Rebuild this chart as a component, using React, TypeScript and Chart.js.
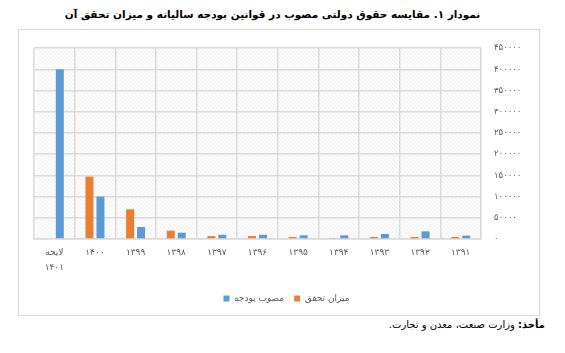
import React, { useEffect, useRef } from "react";
import { Chart, registerables } from "chart.js";

Chart.register(...registerables);

// Categories in displayed order (left to right)
const categories = ["لایحه ۱۴۰۱", "۱۴۰۰", "۱۳۹۹", "۱۳۹۸", "۱۳۹۷", "۱۳۹۶", "۱۳۹۵", "۱۳۹۴", "۱۳۹۳", "۱۳۹۲", "۱۳۹۱"];
// میزان تحقق (orange)
const realized = [null, 147000, 70000, 19600, 7000, 7000, 4700, 2500, 4700, 4700, 4700];
// مصوب بودجه (blue)
const approved = [400000, 100000, 28300, 14800, 10000, 10000, 8700, 8700, 11800, 18000, 8000];

const seriesNames = ["میزان تحقق", "مصوب بودجه"];
const yMin = 0;
const yMax = 450000;
const yStep = 50000;

const titleText = "نمودار ۱. مقایسه حقوق دولتی مصوب در قوانین بودجه سالیانه و میزان تحقق آن";
const sourceLabel = "مأخذ:";
const sourceText = " وزارت صنعت، معدن و تجارت.";

const FA_DIGITS = "۰۱۲۳۴۵۶۷۸۹";
const toFa = (v: number | string) => String(v).replace(/\d/g, (d) => FA_DIGITS[Number(d)]);

const FONT = "'DejaVu Sans', sans-serif";

const hatchPlugin = {
  id: "hatchBg",
  beforeDraw(chart: any) {
    const { ctx, chartArea: a } = chart;
    const pc = document.createElement("canvas");
    pc.width = 4;
    pc.height = 4;
    const p = pc.getContext("2d")!;
    p.fillStyle = "#ffffff";
    p.fillRect(0, 0, 4, 4);
    p.strokeStyle = "#ececec";
    p.lineWidth = 1;
    p.beginPath();
    p.moveTo(-1, -1);
    p.lineTo(5, 5);
    p.moveTo(3, -1);
    p.lineTo(5, 1);
    p.moveTo(-1, 3);
    p.lineTo(1, 5);
    p.stroke();
    const pattern = ctx.createPattern(pc, "repeat");
    ctx.save();
    ctx.fillStyle = pattern;
    ctx.fillRect(a.left, a.top, a.right - a.left, a.bottom - a.top);
    ctx.restore();
  },
};

export default function App() {
  const ref = useRef<HTMLCanvasElement>(null);

  useEffect(() => {
    if (!ref.current) return;
    const chart = new Chart(ref.current, {
      type: "bar",
      data: {
        labels: categories,
        datasets: [
          {
            label: seriesNames[0],
            data: realized,
            backgroundColor: "#ED7D31",
            categoryPercentage: 0.54,
            barPercentage: 0.73,
          },
          {
            label: seriesNames[1],
            data: approved,
            backgroundColor: "#5B9BD5",
            categoryPercentage: 0.54,
            barPercentage: 0.73,
          },
        ],
      },
      options: {
        animation: false,
        responsive: false,
        devicePixelRatio: 1,
        layout: { padding: { left: 15, top: 16, right: 0, bottom: 2 } },
        scales: {
          x: {
            grid: { color: "#d9d9d9", lineWidth: 1.5, drawTicks: false, offset: true },
            border: { color: "#d9d9d9", width: 1.5 },
            ticks: {
              color: "#595959",
              padding: 6,
              font: { family: FONT, size: 9, lineHeight: 1.65 },
              maxRotation: 0,
              autoSkip: false,
              callback: function (this: any, value: any) {
                const lbl = String(this.getLabelForValue(value));
                return lbl.includes(" ") ? lbl.split(" ") : lbl;
              },
            },
            afterFit(scale: any) {
              scale.height = 45;
            },
          },
          y: {
            position: "right",
            min: yMin,
            max: yMax,
            grid: { color: "#d9d9d9", lineWidth: 1.5, drawTicks: false },
            border: { color: "#d9d9d9", width: 1.5 },
            ticks: {
              stepSize: yStep,
              color: "#595959",
              padding: 13,
              font: { family: FONT, size: 8.5 },
              callback: (v: any) => toFa(v),
            },
            afterFit(scale: any) {
              scale.width = 58;
            },
          },
        },
        plugins: {
          legend: {
            position: "bottom",
            reverse: true,
            labels: {
              boxWidth: 6,
              boxHeight: 6,
              padding: 10,
              color: "#595959",
              font: { family: FONT, size: 9 },
            },
          },
          tooltip: { enabled: false },
          title: { display: false },
        },
      },
      plugins: [hatchPlugin],
    });
    return () => chart.destroy();
  }, []);

  return (
    <div style={{ position: "fixed", left: 0, top: 0, width: 565, height: 353, background: "#fff" }}>
      <div
        style={{
          position: "absolute",
          top: 8,
          left: -10,
          width: 565,
          textAlign: "center",
          direction: "rtl",
          fontFamily: FONT,
          fontWeight: "bold",
          fontSize: 10.5,
          color: "#000",
        }}
      >
        {titleText}
      </div>
      <div
        style={{
          position: "absolute",
          left: 18,
          top: 29,
          width: 520,
          height: 285,
          border: "1px solid #d9d9d9",
        }}
      >
        <canvas ref={ref} width={520} height={285} style={{ display: "block", width: 520, height: 285 }} />
      </div>
      <div
        style={{
          position: "absolute",
          top: 319,
          right: 20,
          direction: "rtl",
          fontFamily: FONT,
          fontSize: 10,
          color: "#000",
          whiteSpace: "nowrap",
        }}
      >
        <b>{sourceLabel}</b>
        {sourceText}
      </div>
    </div>
  );
}
